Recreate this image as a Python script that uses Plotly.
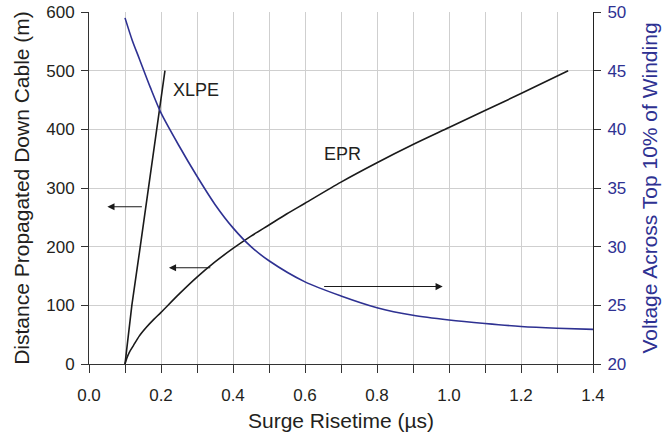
import plotly.graph_objects as go

# XLPE cable: distance propagated (m) vs surge risetime (us)
xlpe_x = [0.1, 0.11, 0.119, 0.14, 0.163, 0.186, 0.211]
xlpe_y = [0, 55, 100, 190, 290, 391, 500]

# EPR cable
epr_x = [0.1, 0.105, 0.112, 0.123, 0.14, 0.16, 0.18, 0.2, 0.25, 0.3, 0.35, 0.4, 0.45,
         0.5, 0.55, 0.6, 0.7, 0.8, 0.9, 1.0, 1.1, 1.2, 1.331]
epr_y = [0, 10, 20, 31, 48, 63, 76, 88, 119, 148, 174, 197, 218,
         237, 256, 274, 310, 343, 374, 403, 432, 461, 500]

# Voltage across top 10% of winding (right axis)
volt_x = [0.1, 0.12, 0.14, 0.17, 0.2, 0.25, 0.3, 0.35, 0.4, 0.45, 0.5, 0.6,
          0.7, 0.8, 0.9, 1.0, 1.1, 1.2, 1.3, 1.4]
volt_y = [49.5, 47.6, 46.0, 43.6, 41.4, 38.6, 36.0, 33.6, 31.6, 30.0, 28.8, 27.0,
          25.8, 24.8, 24.15, 23.75, 23.45, 23.2, 23.05, 22.95]

x_ticks = [0.0, 0.2, 0.4, 0.6, 0.8, 1.0, 1.2, 1.4]
x_ticktext = ["0.0", "0.2", "0.4", "0.6", "0.8", "1.0", "1.2", "1.4"]
y_ticks = [0, 100, 200, 300, 400, 500, 600]
y2_ticks = [20, 25, 30, 35, 40, 45, 50]

# arrows: (tail_x, tip_x, y, yref)
arrows = [(0.151, 0.051, 268, "y"), (0.341, 0.222, 164, "y"), (0.649, 0.9825, 26.6, "y2")]
labels = [("XLPE", 0.296, 467), ("EPR", 0.705, 358)]

BLUE = "#2E3192"
TXT = "#231F20"
GRID = "#cfcfcf"
FONT = "Liberation Sans, Arial, sans-serif"

fig = go.Figure()
fig.add_trace(go.Scatter(x=xlpe_x, y=xlpe_y, mode="lines", line=dict(color="#1a1a1a", width=1.6),
                         showlegend=False, hoverinfo="skip"))
fig.add_trace(go.Scatter(x=epr_x, y=epr_y, mode="lines",
                         line=dict(color="#1a1a1a", width=1.6, shape="spline", smoothing=0.8),
                         showlegend=False, hoverinfo="skip"))
fig.add_trace(go.Scatter(x=volt_x, y=volt_y, mode="lines",
                         line=dict(color=BLUE, width=1.6, shape="spline", smoothing=0.8),
                         yaxis="y2", showlegend=False, hoverinfo="skip"))

for tail, tip, yv, yr in arrows:
    fig.add_annotation(x=tip, y=yv, ax=tail, ay=yv, xref="x", yref=yr, axref="x", ayref=yr,
                       showarrow=True, arrowhead=2, arrowsize=1.3, arrowwidth=1.1,
                       arrowcolor="#1a1a1a", text="")
for txt, xv, yv in labels:
    fig.add_annotation(x=xv, y=yv, xref="x", yref="y", text=txt, showarrow=False,
                       font=dict(family=FONT, size=18, color=TXT))

fig.update_layout(
    width=664, height=435,
    margin=dict(l=89, r=71, t=12, b=71),
    paper_bgcolor="white", plot_bgcolor="white",
    font=dict(family=FONT, color=TXT, size=17),
    xaxis=dict(range=[0, 1.4], tickvals=x_ticks, ticktext=x_ticktext, automargin=False,
               ticks="outside", ticklen=8, tickcolor="#333", showline=True,
               linecolor="#333", linewidth=1, showgrid=True, gridcolor=GRID, gridwidth=1,
               zeroline=False, tickfont=dict(size=17, color=TXT), ticklabelstandoff=8,
               minor=dict(dtick=0.1, tick0=0, ticks="outside", ticklen=8, tickcolor="#333",
                          showgrid=True, gridcolor=GRID, gridwidth=1),
               title=dict(text="Surge Risetime (\u00b5s)", font=dict(size=21, color=TXT), standoff=8)),
    xaxis2=dict(range=[0, 1.4], overlaying="x", anchor="y", side="top", showticklabels=False,
                automargin=False,
                tickmode="linear", dtick=0.1, tick0=0, ticks="inside", ticklen=6, tickcolor="#444",
                showline=True, linecolor="#666", linewidth=1, showgrid=False, zeroline=False),
    yaxis=dict(range=[0, 600], tickvals=y_ticks, ticks="outside", ticklen=7, tickcolor="#333",
               automargin=False,
               showline=True, linecolor="#333", linewidth=1, showgrid=True, gridcolor=GRID,
               gridwidth=1, zeroline=False, tickfont=dict(size=17, color=TXT), ticklabelstandoff=3,
               title=dict(text="Distance Propagated Down Cable (m)",
                          font=dict(size=21, color=TXT), standoff=10)),
    yaxis2=dict(range=[20, 50], tickvals=y2_ticks, overlaying="y", side="right",
                automargin=False,
                ticks="outside", ticklen=7, tickcolor="#333", showline=True, linecolor="#222",
                linewidth=1, showgrid=False, zeroline=False, tickfont=dict(size=17, color=BLUE),
                ticklabelstandoff=3,
                title=dict(text="Voltage Across Top 10% of Winding",
                           font=dict(size=21, color=BLUE), standoff=16)),
)

fig.write_html("out.html")
